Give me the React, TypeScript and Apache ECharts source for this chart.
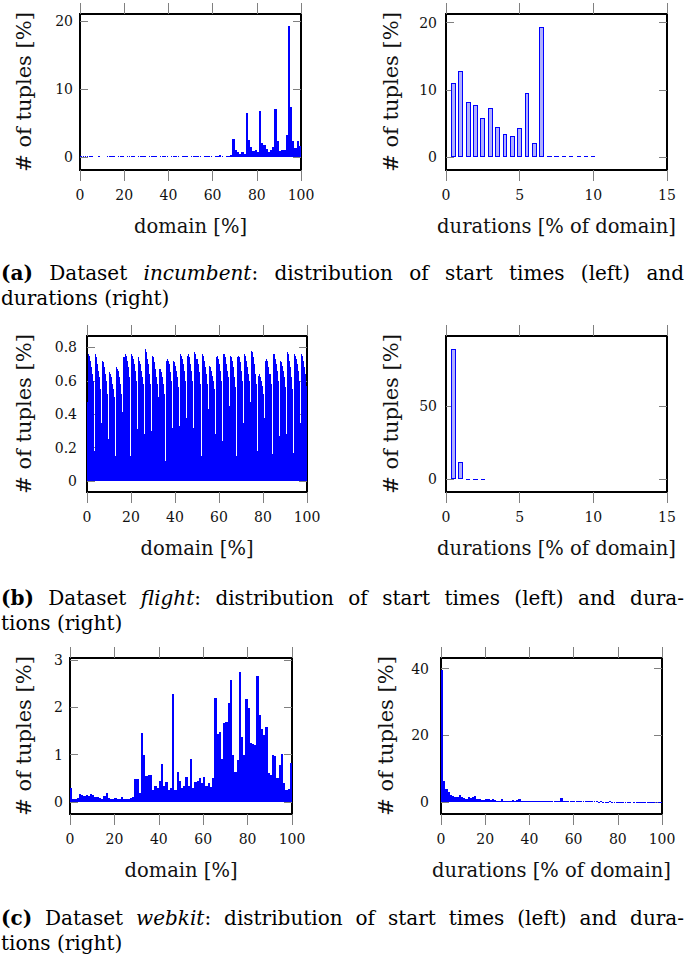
import React, { useEffect, useRef } from "react";
import * as echarts from "echarts";

// ---------------- data ----------------
// (a) incumbent: start times, 1% bins (null = empty bin)
const incStart = [
  0.1, 0.1, 0.1, 0.1, 0.1, 0.1, null, null, 0.1, null,
  null, null, 0.1, 0.2, 0.1, 0.1, null, 0.1, 0.1, 0.1,
  null, 0.1, 0.1, 0.1, 0.1, null, 0.1, 0.1, 0.1, 0.1,
  null, 0.1, 0.2, 0.1, 0.1, null, 0.1, 0.1, 0.2, 0.1,
  null, 0.1, 0.1, 0.1, 0.1, null, 0.1, 0.1, 0.1, null,
  0.1, 0.2, 0.1, 0.1, 0.1, null, 0.1, 0.1, 0.2, 0.1,
  null, 0.1, 0.1, 0.3, 0.1, null, 0.1, 0.1, 0.3, 2.6,
  1.1, 0.8, 0.4, 0.7, 0.5, 6.4, 2.5, 1.5, 0.9, 1.0,
  0.7, 6.8, 2.1, 1.8, 1.2, 0.8, 1.0, 1.5, 7.1, 2.3,
  0.9, 1.0, 1.1, 3.2, 19.2, 7.3, 2.4, 1.3, 2.4, 1.6,
];
// (a) incumbent: durations
const incDurBins = [0.5, 1, 1.5, 2, 2.5, 3, 3.5, 4, 4.5, 5, 5.5, 6, 6.5, 7, 7.5, 8, 8.5, 9, 9.5, 10];
const incDur = [11.1, 12.8, 8.2, 7.7, 5.9, 7.3, 4.5, 3.4, 3.2, 4.4, 9.5, 2.1, 19.4, 0.15, 0.1, 0.1, 0.1, 0.1, 0.1, 0.1];

// (b) flight: start times (daily bins, weekly pattern)
const flightStart = [
  0.47,
  0.76, 0.75, 0.72, 0.68, 0.64, 0.60, 0.18,
  0.76, 0.74, 0.70, 0.66, 0.62, 0.55, 0.35,
  0.72, 0.71, 0.68, 0.64, 0.60, 0.52, 0.25,
  0.65, 0.64, 0.62, 0.58, 0.55, 0.50, 0.15,
  0.68, 0.67, 0.66, 0.62, 0.58, 0.52, 0.41,
  0.74, 0.76, 0.75, 0.72, 0.68, 0.62, 0.15,
  0.76, 0.75, 0.73, 0.70, 0.66, 0.60, 0.31,
  0.74, 0.72, 0.70, 0.66, 0.62, 0.58, 0.28,
  0.79, 0.77, 0.73, 0.70, 0.64, 0.58, 0.30,
  0.75, 0.74, 0.71, 0.67, 0.62, 0.58, 0.50,
  0.67, 0.67, 0.65, 0.62, 0.58, 0.52, 0.12,
  0.72, 0.73, 0.72, 0.70, 0.65, 0.60, 0.32,
  0.72, 0.71, 0.69, 0.66, 0.62, 0.56, 0.33,
  0.76, 0.75, 0.73, 0.70, 0.66, 0.60, 0.38,
  0.75, 0.76, 0.74, 0.70, 0.66, 0.60, 0.32,
  0.77, 0.76, 0.73, 0.70, 0.65, 0.58, 0.15,
  0.76, 0.75, 0.72, 0.68, 0.64, 0.58, 0.43,
  0.69, 0.68, 0.66, 0.63, 0.60, 0.55, 0.28,
  0.74, 0.75, 0.73, 0.70, 0.66, 0.60, 0.24,
  0.76, 0.76, 0.74, 0.70, 0.66, 0.62, 0.45,
  0.75, 0.74, 0.72, 0.68, 0.62, 0.56, 0.15,
  0.74, 0.75, 0.74, 0.71, 0.66, 0.60, 0.35,
  0.76, 0.75, 0.72, 0.68, 0.64, 0.60, 0.47,
  0.78, 0.77, 0.74, 0.70, 0.64, 0.58, 0.18,
  0.63, 0.64, 0.62, 0.60, 0.57, 0.52, 0.38,
  0.72, 0.73, 0.72, 0.68, 0.64, 0.58, 0.16,
  0.76, 0.76, 0.73, 0.70, 0.66, 0.60, 0.27,
  0.72, 0.71, 0.69, 0.66, 0.62, 0.56, 0.28,
  0.77, 0.76, 0.72, 0.68, 0.62, 0.55, 0.17,
  0.76, 0.75, 0.73, 0.70, 0.66, 0.60, 0.35,
  0.76, 0.75, 0.72, 0.68, 0.64, 0.57,
];
// (b) flight: durations
const flightDurBins = [0.5, 1, 1.5, 2, 2.5];
const flightDur = [88.5, 11.5, 0.3, 0.3, 0.3];

// (c) webkit: start times, 1% bins
const webkitStart = [
  0.30, 0.07, 0.07, 0.08, 0.17, 0.15, 0.14, 0.16, 0.13, 0.17,
  0.15, 0.10, 0.10, 0.08, 0.07, 0.12, 0.19, 0.08, 0.07, 0.06,
  0.09, 0.07, 0.06, 0.11, 0.06, 0.06, 0.07, 0.08, 0.10, 0.48,
  0.49, 0.20, 1.45, 1.00, 0.55, 0.58, 0.58, 0.25, 0.33, 0.30,
  0.45, 0.80, 0.35, 0.42, 0.25, 0.30, 2.28, 0.25, 0.63, 0.45,
  0.30, 0.35, 0.52, 0.33, 0.91, 0.30, 0.43, 0.45, 0.50, 0.40,
  0.53, 0.35, 0.40, 0.32, 0.50, 2.19, 1.43, 1.47, 0.90, 1.67,
  1.70, 2.10, 2.58, 1.00, 0.63, 0.89, 2.75, 1.38, 1.00, 2.18,
  1.98, 1.25, 1.22, 1.20, 2.65, 1.83, 1.55, 1.42, 1.58, 0.62,
  0.58, 1.00, 0.97, 0.50, 0.78, 1.02, 0.40, 0.25, 0.27, 0.82,
];
// (c) webkit: durations, 1% bins
const webkitDur = [
  39.5, 6.5, 4.0, 3.0, 2.2, 1.8, 1.7, 1.5, 2.2, 1.6,
  1.3, 1.0, 1.5, 1.2, 1.6, 1.8, 1.0, 0.9, 0.8, 0.7,
  1.1, 0.9, 0.6, 1.0, 0.6, 0.5, 0.5, 1.0, 0.4, 0.5,
  0.4, 0.5, 0.6, 0.5, 0.8, 0.9, 0.5, 0.4, 0.3, 0.3,
  0.5, 0.3, 0.4, 0.3, 0.3, 0.3, 0.2, 0.3, 0.2, 0.3,
  0.2, 0.3, 0.2, 0.4, 1.3, 0.3, 0.5, 0.3, 0.2, 0.3,
  0.2, 0.2, 0.2, 0.3, 0.2, 0.3, 0.4, 0.4, 0.3, 0.2,
  0.2, 0.1, 0.2, 0.1, 0.1, 0.1, 0.2, 0.1, 0.1, 0.1,
  0.1, 0.1, 0.1, 0.1, 0.1, 0.1, null, 0.1, 0.1, 0.1,
  0.1, 0.1, 0.1, 0.1, 0.1, 0.1, 0.1, 0.1, 0.1, 0.1,
];

// tick values
const domainTicks = [0, 20, 40, 60, 80, 100];
const durTicks = [0, 5, 10, 15];
const incYTicks = [0, 10, 20];
const flightStartYTicks = [0, 0.2, 0.4, 0.6, 0.8];
const flightDurYTicks = [0, 50];
const webkitStartYTicks = [0, 1, 2, 3];
const webkitDurYTicks = [0, 20, 40];

// captions (**bold**, *italic*)
const captions = [
  { y: 273, lines: ["**(a)** Dataset *incumbent*: distribution of start times (left) and", "durations (right)"] },
  { y: 598, lines: ["**(b)** Dataset *flight*: distribution of start times (left) and dura-", "tions (right)"] },
  { y: 918, lines: ["**(c)** Dataset *webkit*: distribution of start times (left) and dura-", "tions (right)"] },
];

// ---------------- helpers ----------------
const BLUE = "#0000ff";
const LIGHT = "#b0b0ff";
const TICK = "#808080";
const TEXT = "#111";
const FONT = "'DejaVu Serif', serif";
const CAP_SIZE = 20;

function binned(values: (number | null)[], span: number) {
  const w = span / values.length;
  return values.map((v, i) => [(i + 0.5) * w, v == null ? "-" : v]);
}
function paired(xs: number[], ys: number[]) {
  return xs.map((x, i) => [x, ys[i]]);
}

const DOMAIN = "domain [%]";
const DURS = "durations [% of domain]";
const YNAME = "# of tuples [%]";

const panels = [
  { left: 80, top: 14, width: 221, height: 156, xMin: 0, xMax: 100, yMin: -1.9, yMax: 21.0, xTicks: domainTicks, yTicks: incYTicks, xName: DOMAIN, data: binned(incStart, 100), kind: "solid", border: 1, yLabelMargin: 7, yNameGap: 46 },
  { left: 446, top: 14, width: 221, height: 156, xMin: 0, xMax: 15, yMin: -1.9, yMax: 21.3, xTicks: durTicks, yTicks: incYTicks, xName: DURS, data: paired(incDurBins, incDur), kind: "outline", border: 1, yLabelMargin: 9, yNameGap: 45 },
  { left: 87, top: 336, width: 220, height: 156, xMin: 0, xMax: 100, yMin: -0.066, yMax: 0.868, xTicks: domainTicks, yTicks: flightStartYTicks, xName: DOMAIN, data: binned(flightStart, 100), kind: "solid", border: 0, yLabelMargin: 10, yNameGap: 53, decimals: 1 },
  { left: 446, top: 336, width: 221, height: 156, xMin: 0, xMax: 15, yMin: -8.6, yMax: 97.5, xTicks: durTicks, yTicks: flightDurYTicks, xName: DURS, data: paired(flightDurBins, flightDur), kind: "outline", border: 1, yLabelMargin: 9, yNameGap: 45 },
  { left: 70, top: 658, width: 222, height: 156, xMin: 0, xMax: 100, yMin: -0.25, yMax: 3.04, xTicks: domainTicks, yTicks: webkitStartYTicks, xName: DOMAIN, data: binned(webkitStart, 100), kind: "solid", border: 0, yLabelMargin: 7, yNameGap: 36 },
  { left: 441, top: 658, width: 221, height: 156, xMin: 0, xMax: 100, yMin: -3.5, yMax: 43.2, xTicks: domainTicks, yTicks: webkitDurYTicks, xName: DURS, data: binned(webkitDur, 100), kind: "solid", border: 1, yLabelMargin: 12, yNameGap: 45 },
];

type Run = { t: string; b: boolean; i: boolean };
function parseWord(w: string): Run[] {
  const out: Run[] = [];
  const re = /(\*\*[^*]+\*\*|\*[^*]+\*|[^*]+)/g;
  let m: RegExpExecArray | null;
  while ((m = re.exec(w))) {
    const s = m[0];
    if (s.startsWith("**")) out.push({ t: s.slice(2, -2), b: true, i: false });
    else if (s.startsWith("*")) out.push({ t: s.slice(1, -1), b: false, i: true });
    else out.push({ t: s, b: false, i: false });
  }
  return out;
}
function fontOf(r: Run) {
  return `${r.i ? "italic " : ""}${r.b ? "bold " : ""}${CAP_SIZE}px ${FONT}`;
}

function buildCaptions() {
  const ctx = document.createElement("canvas").getContext("2d")!;
  const measure = (r: Run) => {
    ctx.font = fontOf(r);
    return ctx.measureText(r.t).width;
  };
  const spaceW = measure({ t: " ", b: false, i: false });
  const els: any[] = [];
  const X0 = 1;
  const X1 = 684;
  const LINE = 25;
  captions.forEach((cap) => {
    cap.lines.forEach((line, li) => {
      const words = line.split(" ").map(parseWord);
      const widths = words.map((runs) => runs.reduce((s, r) => s + measure(r), 0));
      const total = widths.reduce((s, w) => s + w, 0);
      const justify = li < cap.lines.length - 1;
      const gap = justify ? (X1 - X0 - total) / (words.length - 1) : spaceW;
      let x = X0;
      const y = cap.y + li * LINE;
      words.forEach((runs) => {
        runs.forEach((r) => {
          els.push({
            type: "text",
            x,
            y,
            silent: true,
            style: {
              text: r.t,
              font: fontOf(r),
              fill: "#000",
              textAlign: "left",
              textVerticalAlign: "middle",
              verticalAlign: "middle",
            },
          });
          x += measure(r);
        });
        x += gap;
      });
    });
  });
  return els;
}

function buildOption() {
  const grid: any[] = [];
  const xAxis: any[] = [];
  const yAxis: any[] = [];
  const series: any[] = [];
  const textStyle = { fontFamily: FONT, color: TEXT };
  panels.forEach((p: any, g) => {
    grid.push({ left: p.left, top: p.top, width: p.width, height: p.height, show: true, borderColor: "#000", borderWidth: 1.2, backgroundColor: "transparent" });
    const xTick = { show: true, inside: false, length: 11, customValues: p.xTicks, lineStyle: { color: TICK, width: 1 } };
    const yTick = { show: true, inside: true, length: 8, customValues: p.yTicks, lineStyle: { color: TICK, width: 1 } };
    const yFmt = p.decimals ? (v: number) => (v === 0 ? "0" : v.toFixed(p.decimals)) : (v: number) => String(v);
    const noLine = { show: false, onZero: false };
    xAxis.push({
      gridIndex: g, type: "value", position: "bottom", min: p.xMin, max: p.xMax,
      axisLine: noLine, splitLine: { show: false }, axisTick: xTick,
      axisLabel: { customValues: p.xTicks, margin: 18, fontSize: 14, ...textStyle },
      name: p.xName, nameLocation: "middle", nameGap: 46,
      nameTextStyle: { fontSize: 19.5, ...textStyle },
    });
    xAxis.push({
      gridIndex: g, type: "value", position: "top", min: p.xMin, max: p.xMax,
      axisLine: noLine, splitLine: { show: false }, axisTick: xTick, axisLabel: { show: false },
    });
    yAxis.push({
      gridIndex: g, type: "value", position: "left", min: p.yMin, max: p.yMax,
      axisLine: noLine, splitLine: { show: false }, axisTick: yTick,
      axisLabel: { customValues: p.yTicks, margin: p.yLabelMargin, fontSize: 14, formatter: yFmt, ...textStyle },
      name: YNAME, nameLocation: "middle", nameGap: p.yNameGap, nameRotate: 90,
      nameTextStyle: { fontSize: 21, ...textStyle },
    });
    yAxis.push({
      gridIndex: g, type: "value", position: "right", min: p.yMin, max: p.yMax,
      axisLine: noLine, splitLine: { show: false }, axisTick: yTick, axisLabel: { show: false },
    });
    const solid = p.kind === "solid";
    series.push({
      type: "bar",
      xAxisIndex: 2 * g,
      yAxisIndex: 2 * g,
      data: p.data,
      barWidth: solid ? "100%" : "66%",
      silent: true,
      itemStyle: solid
        ? { color: BLUE, borderColor: BLUE, borderWidth: p.border }
        : { color: LIGHT, borderColor: BLUE, borderWidth: p.border },
    });
  });
  return {
    animation: false,
    backgroundColor: "#fff",
    grid,
    xAxis,
    yAxis,
    series,
    graphic: { elements: buildCaptions() },
  };
}

export default function App() {
  const ref = useRef<HTMLDivElement>(null);
  useEffect(() => {
    if (!ref.current) return;
    const chart = echarts.init(ref.current, null, { renderer: "svg" });
    chart.setOption(buildOption() as any);
    return () => chart.dispose();
  }, []);
  return (
    <>
      <style>{"#hist-figure svg path { shape-rendering: crispEdges; }"}</style>
      <div
        id="hist-figure"
        ref={ref}
        style={{ position: "absolute", left: 0, top: 0, width: 685, height: 962, background: "#fff" }}
      />
    </>
  );
}
